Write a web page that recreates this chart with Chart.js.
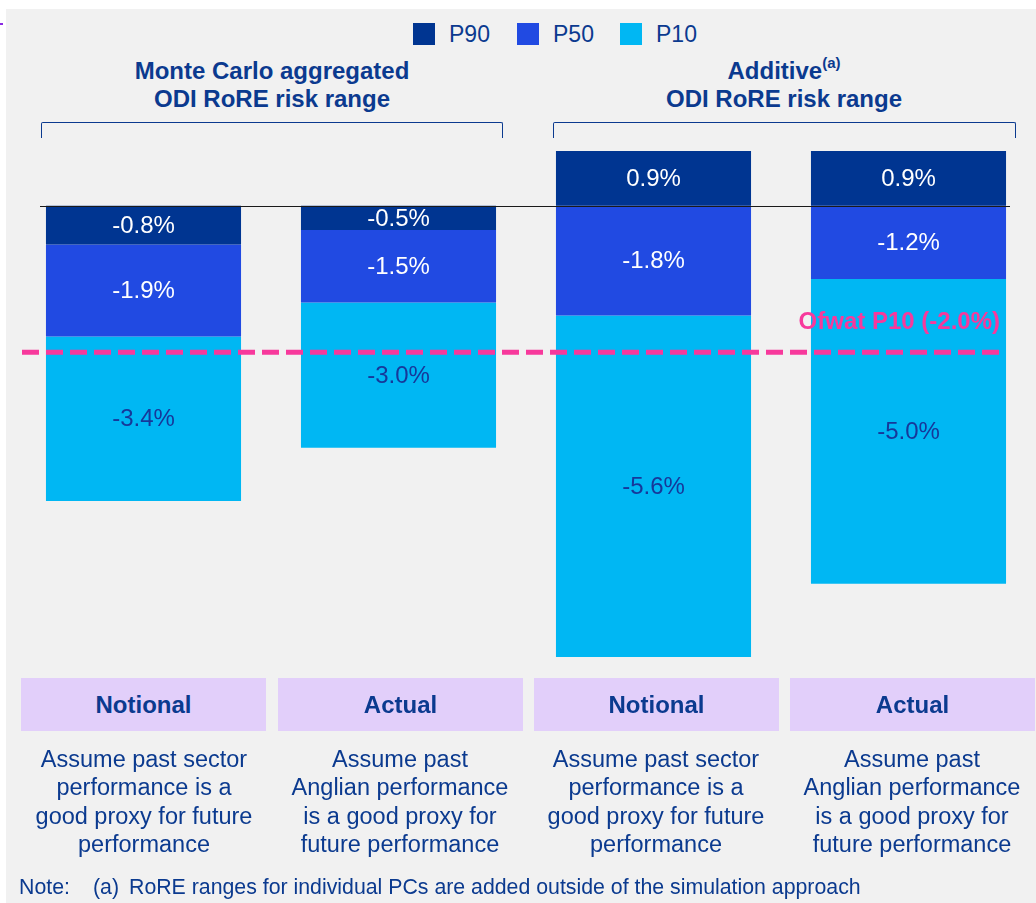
<!DOCTYPE html>
<html>
<head>
<meta charset="utf-8">
<script src="https://cdn.jsdelivr.net/npm/chart.js@4"></script>
<style>
  body { margin: 0; background: #fff; font-family: "Liberation Sans", Arial, sans-serif; color: #0b3a8f; }
  #page { position: relative; width: 1036px; height: 903px; overflow: hidden; }
  #panel { position: absolute; left: 6px; top: 9px; right: 0; bottom: 0; background: #f1f1f1; }
  #mark { position: absolute; left: 0; top: 23px; width: 3px; height: 2px; background: #8a2be2; }
  #chartBox { position: absolute; left: 0; top: 0; width: 1036px; height: 903px; }
  .legend { position: absolute; top: 23px; font-size: 23px; line-height: 22px; display: flex; align-items: center; }
  .legend span.sw { display: inline-block; width: 22px; height: 22px; margin-right: 14px; }
  .title { position: absolute; top: 57px; width: 480px; text-align: center; font-weight: bold; font-size: 24px; line-height: 28px; }
  .title sup { font-size: 15px; line-height: 0; position: relative; top: -2px; }
  .bracket { position: absolute; top: 122px; height: 15px; border: 1.3px solid #0b3a8f; border-bottom: none; border-radius: 2px 2px 0 0; }
  .tag { position: absolute; top: 678px; width: 245px; height: 53px; background: #e2cffa; display: flex; align-items: center; justify-content: center; font-weight: bold; font-size: 24px; }
  .desc { position: absolute; top: 745px; width: 256px; text-align: center; font-size: 23.5px; line-height: 28.3px; }
  .note { position: absolute; top: 875px; font-size: 21.3px; line-height: 25px; }
</style>
</head>
<body>
<div id="page">
  <div id="panel"></div>
  <div id="mark"></div>

  <div class="legend" style="left:413px"><span class="sw" style="background:#003591"></span>P90</div>
  <div class="legend" style="left:517px"><span class="sw" style="background:#214ae2"></span>P50</div>
  <div class="legend" style="left:620px"><span class="sw" style="background:#00b7f3"></span>P10</div>

  <div class="title" style="left:32px">Monte Carlo aggregated<br>ODI RoRE risk range</div>
  <div class="title" style="left:544px">Additive<sup>(a)</sup><br>ODI RoRE risk range</div>
  <div class="bracket" style="left:41px; width:460px"></div>
  <div class="bracket" style="left:553px; width:461px"></div>

  <div id="chartBox"><canvas id="myChart"></canvas></div>

  <div class="tag" style="left:21px">Notional</div>
  <div class="tag" style="left:278px">Actual</div>
  <div class="tag" style="left:534px">Notional</div>
  <div class="tag" style="left:790px">Actual</div>

  <div class="desc" style="left:16px">Assume past sector<br>performance is a<br>good proxy for future<br>performance</div>
  <div class="desc" style="left:272px">Assume past<br>Anglian performance<br>is a good proxy for<br>future performance</div>
  <div class="desc" style="left:528px">Assume past sector<br>performance is a<br>good proxy for future<br>performance</div>
  <div class="desc" style="left:784px">Assume past<br>Anglian performance<br>is a good proxy for<br>future performance</div>

  <div class="note" style="left:19px">Note:</div>
  <div class="note" style="left:93px">(a)</div>
  <div class="note" style="left:129px">RoRE ranges for individual PCs are added outside of the simulation approach</div>
</div>

<script>
// values (% RoRE), one per bar: MC notional, MC actual, additive notional, additive actual
const categories = ["Notional", "Actual", "Notional", "Actual"];
const group = ["mc", "mc", "add", "add"];
const p90 = [-0.8, -0.5, 0.9, 0.9];
const p50 = [-1.9, -1.5, -1.8, -1.2];
const p10 = [-3.4, -3.0, -5.6, -5.0];

const ofwatP10 = -2.0;
const ofwatLevel = -2.4; // where the slide draws the dashed line, on the additive axis

const colors = { P90: "#003591", P50: "#214ae2", P10: "#00b7f3" };
const labelColors = { P90: "#ffffff", P50: "#ffffff", P10: "#16389a" };

// the slide draws the two groups at different heights per %, so each group gets its own axis
const addRange = { min: -7.45, max: 0.9 };
const mcStretch = 1.26;

function split(values, g) {
  return values.map((v, i) => group[i] === g ? v : null);
}

const series = [["P90", p90], ["P50", p50], ["P10", p10]];
const datasets = [];
series.forEach(([name, values]) => {
  datasets.push({ label: name, data: split(values, "mc"), yAxisID: "yMC", backgroundColor: colors[name] });
  datasets.push({ label: name, data: split(values, "add"), yAxisID: "yAdd", backgroundColor: colors[name] });
});
datasets.forEach(d => {
  d.barPercentage = 0.765;
  d.categoryPercentage = 1;
  d.borderWidth = 0;
});

const segmentLabels = {
  id: "segmentLabels",
  afterDatasetsDraw(chart) {
    const ctx = chart.ctx;
    ctx.save();
    ctx.font = "24px 'Liberation Sans', Arial";
    ctx.textAlign = "center";
    ctx.textBaseline = "middle";
    chart.data.datasets.forEach((ds, di) => {
      const meta = chart.getDatasetMeta(di);
      meta.data.forEach((bar, i) => {
        const v = ds.data[i];
        if (v === null) return;
        ctx.fillStyle = labelColors[ds.label];
        ctx.fillText(v.toFixed(1) + "%", bar.x, (bar.y + bar.base) / 2 + 1);
      });
    });
    ctx.restore();
  }
};

const refLines = {
  id: "refLines",
  afterDatasetsDraw(chart) {
    const ctx = chart.ctx;
    const area = chart.chartArea;
    const y = chart.scales.yAdd;
    ctx.save();
    // zero line
    const y0 = Math.round(y.getPixelForValue(0)) + 0.5;
    ctx.strokeStyle = "#1a1a1a";
    ctx.lineWidth = 1;
    ctx.beginPath();
    ctx.moveTo(area.left + 24, y0);
    ctx.lineTo(area.right - 26, y0);
    ctx.stroke();
    // ofwat P10
    const yo = y.getPixelForValue(ofwatLevel);
    ctx.strokeStyle = "#f7399c";
    ctx.lineWidth = 5;
    ctx.setLineDash([17, 7]);
    ctx.beginPath();
    ctx.moveTo(area.left + 6, yo);
    ctx.lineTo(area.right - 31, yo);
    ctx.stroke();
    ctx.fillStyle = "#f7399c";
    ctx.font = "bold 24px 'Liberation Sans', Arial";
    ctx.textAlign = "right";
    ctx.textBaseline = "middle";
    ctx.fillText("Ofwat P10 (" + ofwatP10.toFixed(1) + "%)", area.right - 36, yo - 30);
    ctx.restore();
  }
};

const config = {
  type: "bar",
  data: { labels: categories, datasets: datasets },
  options: {
    responsive: true,
    maintainAspectRatio: false,
    animation: false,
    layout: { padding: { left: 16, right: 0, top: 151, bottom: 243 } },
    scales: {
      x: { stacked: true, display: false },
      yAdd: { stacked: true, display: false, min: addRange.min, max: addRange.max },
      yMC: { stacked: true, display: false, min: addRange.min * mcStretch, max: addRange.max * mcStretch }
    },
    plugins: {
      legend: { display: false },
      tooltip: { enabled: false }
    }
  },
  plugins: [segmentLabels, refLines]
};

var ctx = document.getElementById("myChart").getContext("2d");
var myChart = new Chart(ctx, config);
</script>
</body>
</html>
